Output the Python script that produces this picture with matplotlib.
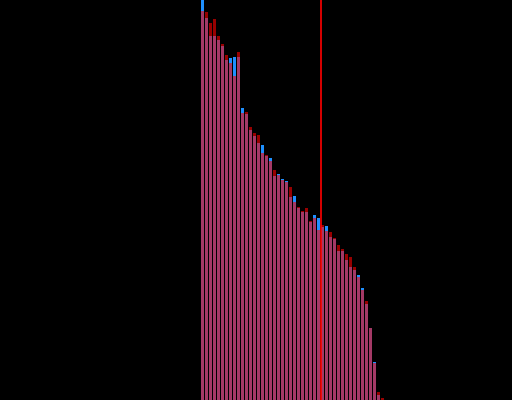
import numpy as np
import matplotlib
matplotlib.use("Agg")
from matplotlib import pyplot as plt

# two overlapping series
blue_vals = [400, 382, 364, 364, 360, 354, 340, 342, 343, 343,
             292, 286, 270, 264, 257, 255, 244, 242, 224, 226,
             221, 219, 203, 204, 192, 188, 188, 178, 185, 182,
             173, 174, 163, 161, 149, 149, 140, 133, 130, 125,
             112, 96, 72, 38, 5, 0]
red_vals = [389, 388, 377, 381, 364, 356, 345, 337, 324, 348,
            287, 288, 273, 267, 265, 247, 245, 239, 230, 225,
            220, 218, 213, 198, 193, 189, 192, 179, 182, 170,
            175, 169, 168, 162, 155, 151, 146, 143, 133, 123,
            110, 99, 72, 37, 8, 2]
marker_x = 29.5

ind = np.arange(len(blue_vals))

fig = plt.figure(figsize=(5.12, 4.0), dpi=100, facecolor='black')
ax = fig.add_axes([0, 0, 1, 1])
ax.set_facecolor('black')

ax.bar(ind, blue_vals, 0.75, color='#1E90FF', linewidth=0)
ax.bar(ind, red_vals, 0.75, color='red', alpha=0.6, linewidth=0)
ax.axvline(marker_x, color='red', linewidth=1.2)

ax.set_xlim(-50.625, 77.375)
ax.set_ylim(0, 400)
ax.axis('off')

plt.savefig('out.png', dpi=100, facecolor='black')
